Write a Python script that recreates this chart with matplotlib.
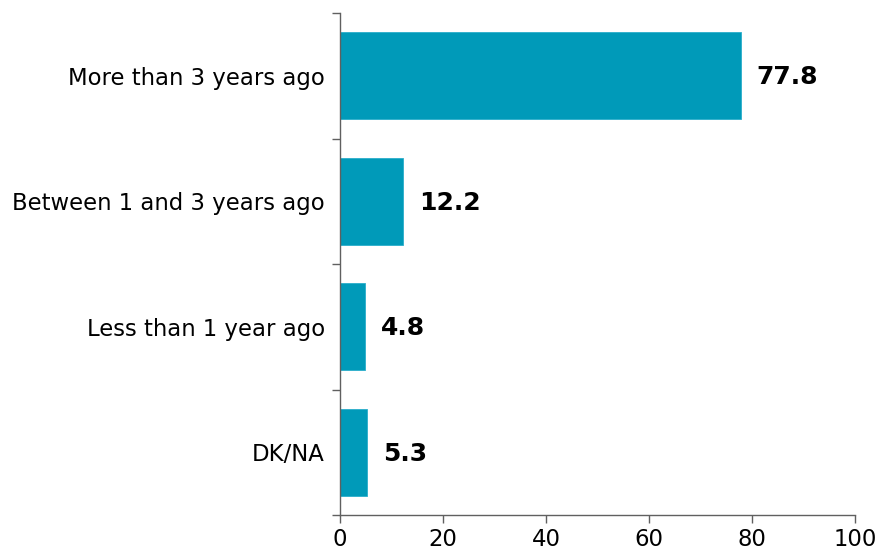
import matplotlib
matplotlib.use('Agg')
import matplotlib.pyplot as plt
import numpy as np

categories = ['More than 3 years ago', 'Between 1 and 3 years ago',
              'Less than 1 year ago', 'DK/NA']
values = [77.8, 12.2, 4.8, 5.3]
xticks = [0, 20, 40, 60, 80, 100]

plt.rcParams['font.family'] = ['DejaVu Sans']

fig = plt.figure(figsize=(8.77, 5.51), dpi=100)
ax = fig.add_axes([340/877, 1 - 515/551, 515/877, 502/551])

pos = np.arange(len(categories))
ax.barh(pos, values, height=0.69, color='#009ab9', edgecolor='#2aaecb', linewidth=0.6)

for p, v in zip(pos, values):
    ax.text(v + 3.1, p + 0.01, '%.1f' % v, va='center', ha='left',
            fontsize=18, fontweight='bold', color='black')

ax.set_xlim(0, 100)
ax.set_ylim(3.5, -0.5)
ax.set_xticks(xticks)
ax.set_xticklabels([str(t) for t in xticks], fontsize=16.4)
ax.set_yticks(pos)
ax.set_yticklabels(categories, fontsize=16.4)
ax.set_yticks(np.arange(-0.5, 4, 1), minor=True)
ax.tick_params(axis='y', which='major', length=0, pad=11)
ax.tick_params(axis='y', which='minor', length=6, width=1, color='#606060', direction='out')
ax.tick_params(axis='x', length=6, width=1, color='#606060', direction='out', pad=3)

for s in ['top', 'right']:
    ax.spines[s].set_visible(False)
for s in ['left', 'bottom']:
    ax.spines[s].set_color('#606060')
    ax.spines[s].set_linewidth(1)

fig.savefig('out.png', dpi=100)
